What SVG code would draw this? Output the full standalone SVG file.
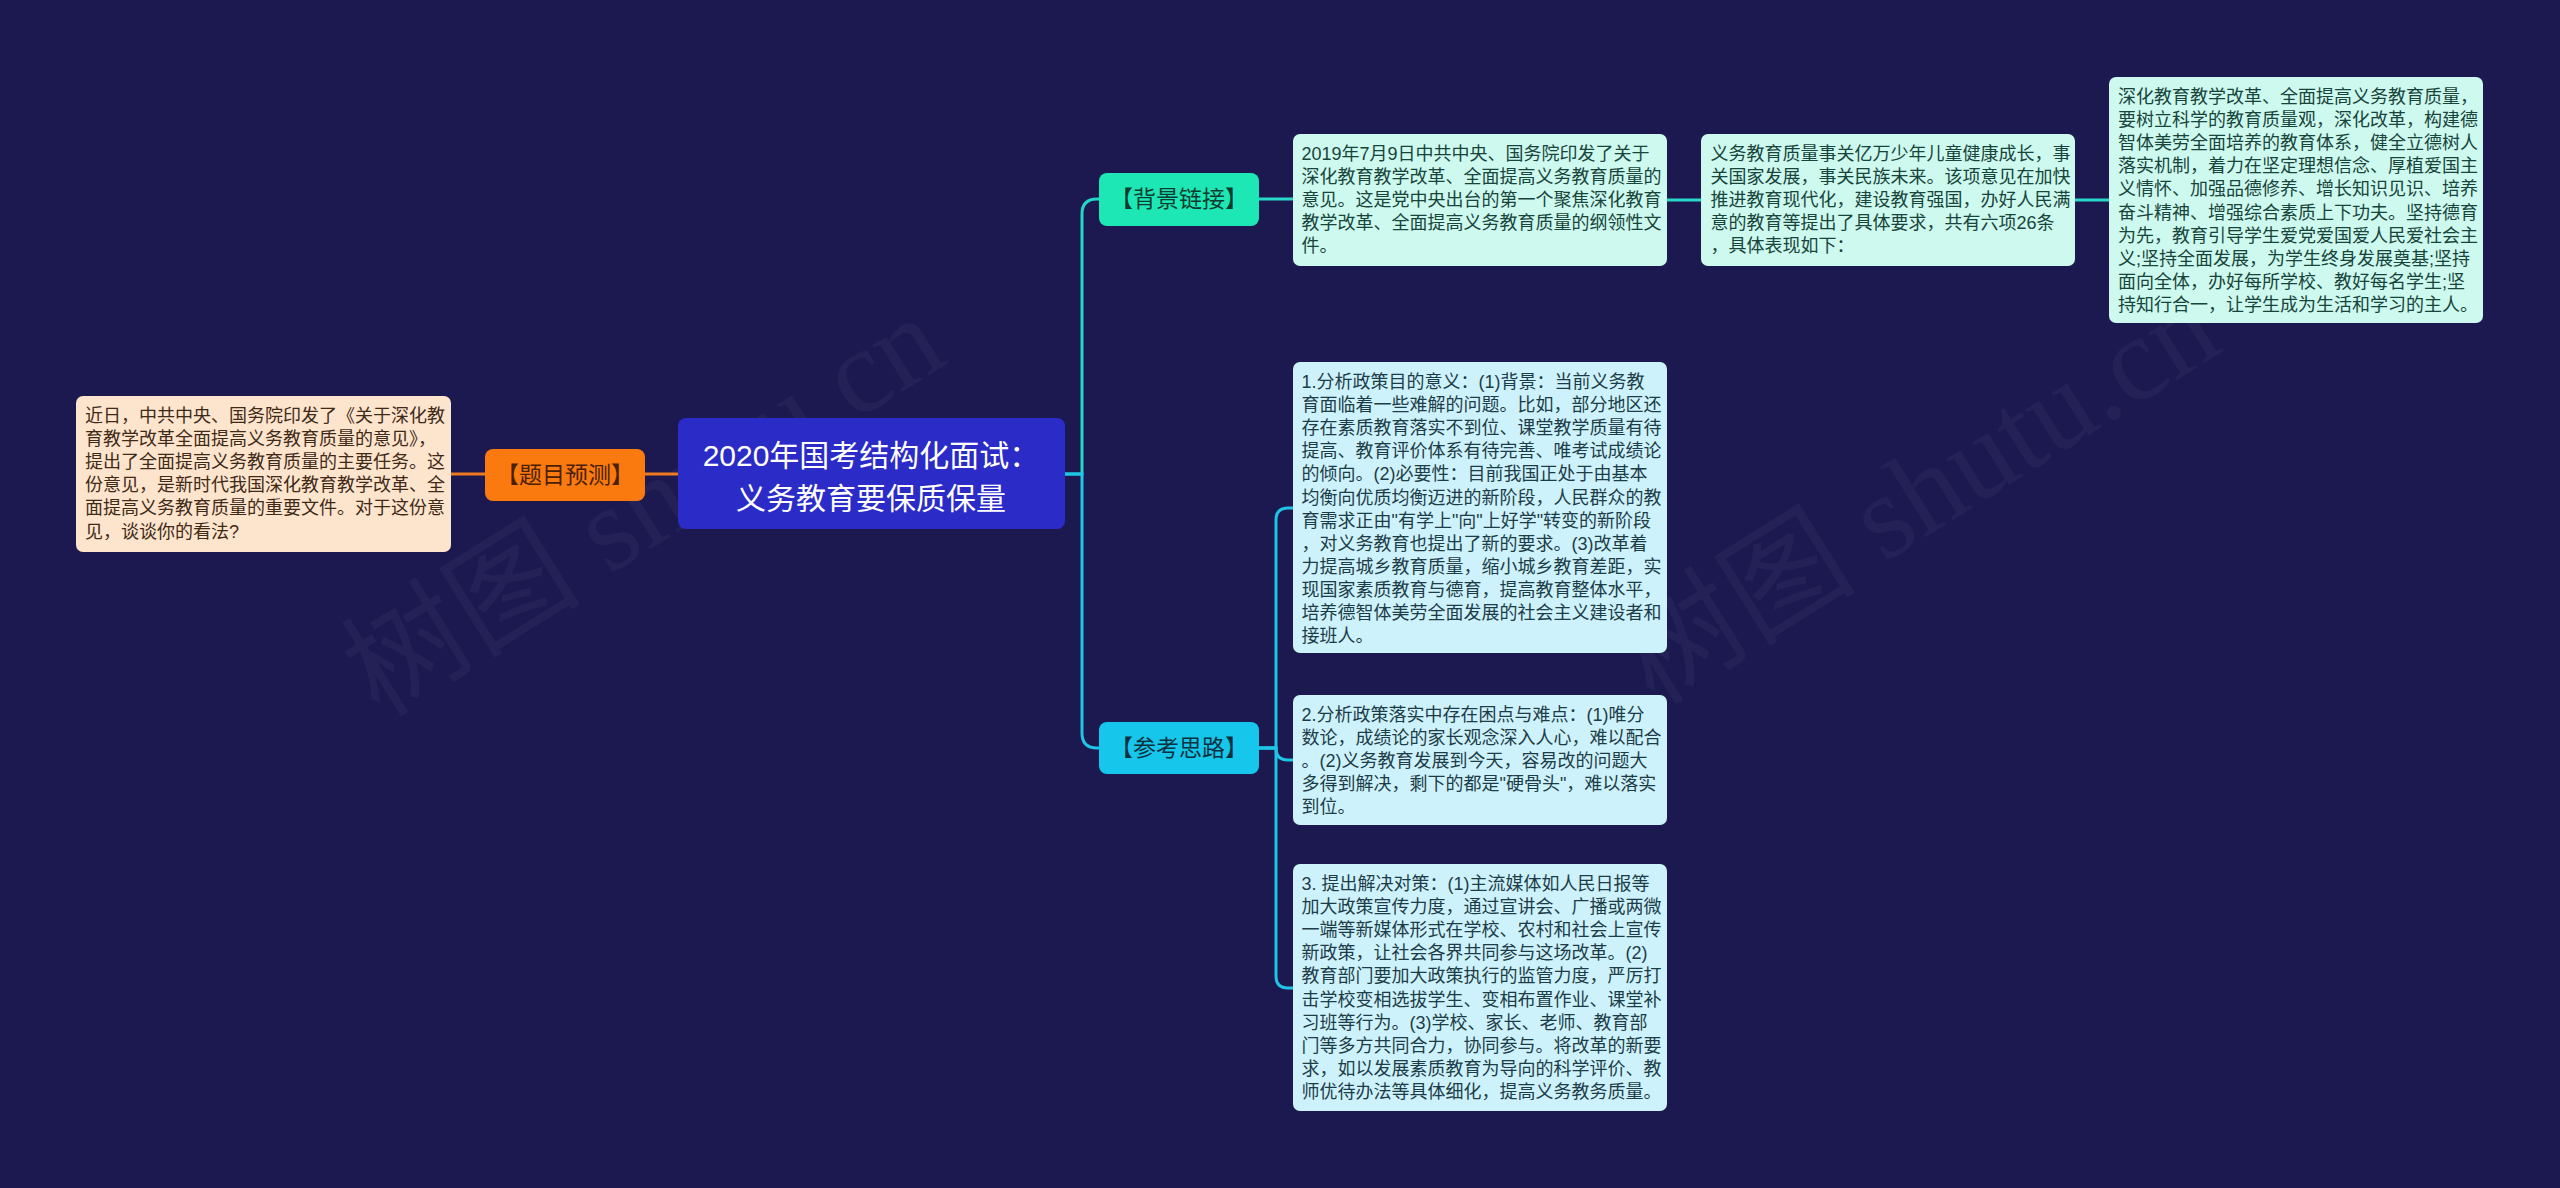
<svg xmlns="http://www.w3.org/2000/svg" width="2560" height="1188" viewBox="0 0 2560 1188">
<style>
.t{font-family:"Liberation Sans","Noto Sans CJK SC",sans-serif;font-size:18px}
.tag{font-family:"Liberation Sans","Noto Sans CJK SC",sans-serif;font-size:23px;text-anchor:middle}
.ctr{font-family:"Liberation Sans","Noto Sans CJK SC",sans-serif;font-size:30px;text-anchor:middle;fill:#ffffff}
.wm{font-family:"Liberation Serif","Noto Sans CJK SC",serif;font-size:120px;fill:#ffffff;opacity:0.035;text-anchor:middle}
.c{fill:none;stroke-width:3;stroke-linecap:round}
.bg{fill:#cdf9ee}
.bgt{fill:#17443b}
.ck{fill:#cef2fb}
.ckt{fill:#1c3c48}
</style>
<rect x="0" y="0" width="2560" height="1188" fill="#1b1950"/>
<g id="watermark">
<text class="wm" transform="translate(665 540) rotate(-32)">树图 shutu.cn</text>
<text class="wm" transform="translate(1940 528) rotate(-32)">树图 shutu.cn</text>
</g>
<g id="connectors">
<path class="c" stroke="#f07a1e" d="M645 474 H678"/>
<path class="c" stroke="#f07a1e" d="M451 474 H485"/>
<path class="c" stroke="#24d6c6" d="M1065 474 H1082 V214 Q1082 199 1097 199 H1099"/>
<path class="c" stroke="#1fc4e6" d="M1065 474 H1082 V733 Q1082 748 1097 748 H1099"/>
<path class="c" stroke="#27d9c6" d="M1259 199 H1293"/>
<path class="c" stroke="#27d9c6" d="M1667 200 H1701"/>
<path class="c" stroke="#27d9c6" d="M2075 200 H2109"/>
<path class="c" stroke="#1fc4e6" d="M1259 748 H1276 V520 Q1276 508 1288 508 H1293"/>
<path class="c" stroke="#1fc4e6" d="M1259 748 H1276 Q1276 760 1288 760 H1293"/>
<path class="c" stroke="#1fc4e6" d="M1259 748 H1276 V976 Q1276 988 1288 988 H1293"/>
</g>
<g id="center">
<rect x="678" y="418" width="387" height="111" rx="8" fill="#2b2bc8"/>
<text class="ctr" x="871" y="466">2020年国考结构化面试：</text>
<text class="ctr" x="871" y="509">义务教育要保质保量</text>
</g>
<g id="tmyc">
<rect x="485" y="449" width="160" height="52" rx="8" fill="#fb7a10"/>
<text class="tag" x="565" y="483" fill="#4a2100">【题目预测】</text>
</g>
<g id="left-node">
<rect x="76" y="396" width="375" height="156" rx="7" fill="#fde4cc"/>
<g class="t" fill="#3f2a18">
<text x="85" y="422">近日，中共中央、国务院印发了《关于深化教</text>
<text x="85" y="445.1">育教学改革全面提高义务教育质量的意见》，</text>
<text x="85" y="468.2">提出了全面提高义务教育质量的主要任务。这</text>
<text x="85" y="491.3">份意见，是新时代我国深化教育教学改革、全</text>
<text x="85" y="514.4">面提高义务教育质量的重要文件。对于这份意</text>
<text x="85" y="537.5">见，谈谈你的看法?</text>
</g>
</g>
<g id="bjlj">
<rect x="1099" y="173" width="160" height="53" rx="8" fill="#1de8b5"/>
<text class="tag" x="1179" y="207" fill="#0d3b30">【背景链接】</text>
</g>
<g id="ckxl">
<rect x="1099" y="722" width="160" height="52" rx="8" fill="#16c7eb"/>
<text class="tag" x="1179" y="756" fill="#0b3040">【参考思路】</text>
</g>
<g id="node-2019">
<rect class="bg" x="1293" y="134" width="374" height="132" rx="7"/>
<g class="t bgt">
<text x="1301.5" y="160">2019年7月9日中共中央、国务院印发了关于</text>
<text x="1301.5" y="183.1">深化教育教学改革、全面提高义务教育质量的</text>
<text x="1301.5" y="206.2">意见。这是党中央出台的第一个聚焦深化教育</text>
<text x="1301.5" y="229.3">教学改革、全面提高义务教育质量的纲领性文</text>
<text x="1301.5" y="252.4">件。</text>
</g>
</g>
<g id="node-yiwu">
<rect class="bg" x="1701" y="134" width="374" height="132" rx="7"/>
<g class="t bgt">
<text x="1710.5" y="160">义务教育质量事关亿万少年儿童健康成长，事</text>
<text x="1710.5" y="183.1">关国家发展，事关民族未来。该项意见在加快</text>
<text x="1710.5" y="206.2">推进教育现代化，建设教育强国，办好人民满</text>
<text x="1710.5" y="229.3">意的教育等提出了具体要求，共有六项26条</text>
<text x="1710.5" y="252.4">，具体表现如下：</text>
</g>
</g>
<g id="node-shenhua">
<rect class="bg" x="2109" y="77" width="374" height="246" rx="7"/>
<g class="t bgt">
<text x="2118" y="103">深化教育教学改革、全面提高义务教育质量，</text>
<text x="2118" y="126.1">要树立科学的教育质量观，深化改革，构建德</text>
<text x="2118" y="149.2">智体美劳全面培养的教育体系，健全立德树人</text>
<text x="2118" y="172.3">落实机制，着力在坚定理想信念、厚植爱国主</text>
<text x="2118" y="195.4">义情怀、加强品德修养、增长知识见识、培养</text>
<text x="2118" y="218.5">奋斗精神、增强综合素质上下功夫。坚持德育</text>
<text x="2118" y="241.6">为先，教育引导学生爱党爱国爱人民爱社会主</text>
<text x="2118" y="264.7">义;坚持全面发展，为学生终身发展奠基;坚持</text>
<text x="2118" y="287.8">面向全体，办好每所学校、教好每名学生;坚</text>
<text x="2118" y="310.9">持知行合一，让学生成为生活和学习的主人。</text>
</g>
</g>
<g id="node-1">
<rect class="ck" x="1293" y="362" width="374" height="291" rx="7"/>
<g class="t ckt">
<text x="1301.5" y="388">1.分析政策目的意义：(1)背景：当前义务教</text>
<text x="1301.5" y="411.1">育面临着一些难解的问题。比如，部分地区还</text>
<text x="1301.5" y="434.2">存在素质教育落实不到位、课堂教学质量有待</text>
<text x="1301.5" y="457.3">提高、教育评价体系有待完善、唯考试成绩论</text>
<text x="1301.5" y="480.4">的倾向。(2)必要性：目前我国正处于由基本</text>
<text x="1301.5" y="503.5">均衡向优质均衡迈进的新阶段，人民群众的教</text>
<text x="1301.5" y="526.6">育需求正由"有学上"向"上好学"转变的新阶段</text>
<text x="1301.5" y="549.7">，对义务教育也提出了新的要求。(3)改革着</text>
<text x="1301.5" y="572.8">力提高城乡教育质量，缩小城乡教育差距，实</text>
<text x="1301.5" y="595.9">现国家素质教育与德育，提高教育整体水平，</text>
<text x="1301.5" y="619">培养德智体美劳全面发展的社会主义建设者和</text>
<text x="1301.5" y="642.1">接班人。</text>
</g>
</g>
<g id="node-2">
<rect class="ck" x="1293" y="695" width="374" height="130" rx="7"/>
<g class="t ckt">
<text x="1301.5" y="721">2.分析政策落实中存在困点与难点：(1)唯分</text>
<text x="1301.5" y="744.1">数论，成绩论的家长观念深入人心，难以配合</text>
<text x="1301.5" y="767.2">。(2)义务教育发展到今天，容易改的问题大</text>
<text x="1301.5" y="790.3">多得到解决，剩下的都是"硬骨头"，难以落实</text>
<text x="1301.5" y="813.4">到位。</text>
</g>
</g>
<g id="node-3">
<rect class="ck" x="1293" y="864" width="374" height="247" rx="7"/>
<g class="t ckt">
<text x="1301.5" y="890">3. 提出解决对策：(1)主流媒体如人民日报等</text>
<text x="1301.5" y="913.1">加大政策宣传力度，通过宣讲会、广播或两微</text>
<text x="1301.5" y="936.2">一端等新媒体形式在学校、农村和社会上宣传</text>
<text x="1301.5" y="959.3">新政策，让社会各界共同参与这场改革。(2)</text>
<text x="1301.5" y="982.4">教育部门要加大政策执行的监管力度，严厉打</text>
<text x="1301.5" y="1005.5">击学校变相选拔学生、变相布置作业、课堂补</text>
<text x="1301.5" y="1028.6">习班等行为。(3)学校、家长、老师、教育部</text>
<text x="1301.5" y="1051.7">门等多方共同合力，协同参与。将改革的新要</text>
<text x="1301.5" y="1074.8">求，如以发展素质教育为导向的科学评价、教</text>
<text x="1301.5" y="1097.9">师优待办法等具体细化，提高义务教务质量。</text>
</g>
</g>
</svg>
